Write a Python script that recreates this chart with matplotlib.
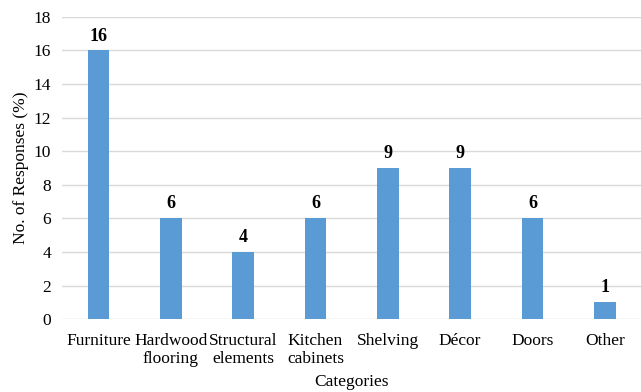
import matplotlib.pyplot as plt
import numpy as np

categories = ['Furniture', 'Hardwood\nflooring', 'Structural\nelements', 'Kitchen\ncabinets',
              'Shelving', 'Décor', 'Doors', 'Other']
responses = [16, 6, 4, 6, 9, 9, 6, 1]
yticks = [0, 2, 4, 6, 8, 10, 12, 14, 16, 18]

plt.rcParams['font.family'] = ['Liberation Serif', 'DejaVu Serif']

fig = plt.figure(figsize=(6.41, 3.92), dpi=100)
ax = fig.add_axes([0.097, 0.186, 0.903, 0.771])

x = np.arange(len(categories))
bars = ax.bar(x, responses, width=0.3, color='#5B9BD5', zorder=3)
for xi, v in zip(x, responses):
    ax.text(xi, v + 0.35, str(v), ha='center', va='bottom', fontsize=13, fontweight='bold')

ax.set_xlim(-0.5, len(categories) - 0.5)
ax.set_ylim(0, 18)
ax.set_yticks(yticks)
ax.set_xticks(x)
ax.set_xticklabels(categories, fontsize=12.5, linespacing=1.2)
ax.tick_params(axis='y', labelsize=12.5, length=0, pad=8)
ax.tick_params(axis='x', length=0, pad=10)
ax.yaxis.grid(True, color='#D9D9D9', linewidth=1, zorder=0)
for s in ax.spines.values():
    s.set_visible(False)

ax.set_xlabel('Categories', fontsize=12.5, labelpad=5)
ax.set_ylabel('No. of Responses (%)', fontsize=12.5, labelpad=3)

fig.savefig('out.png', dpi=100)
